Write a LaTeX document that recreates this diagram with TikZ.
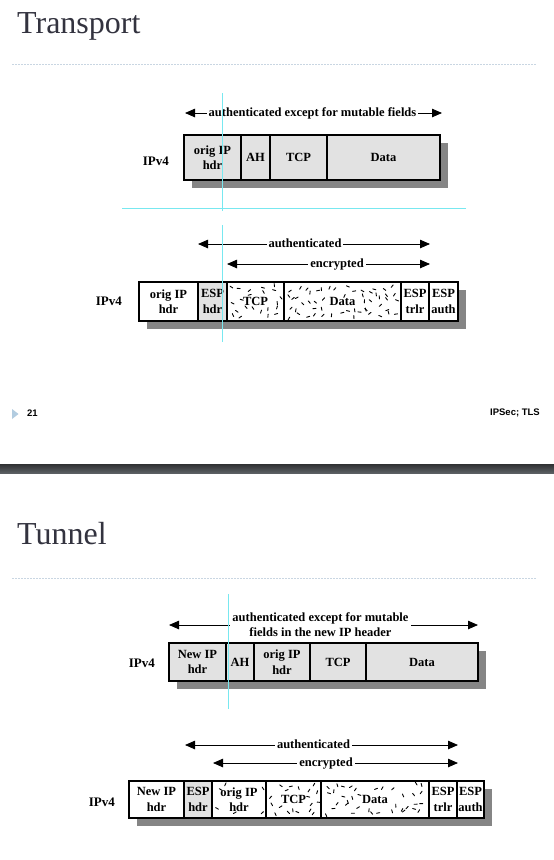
\documentclass[tikz,border=0pt]{standalone}
\usepackage{fontspec}
\setmainfont{Liberation Serif}
\newfontfamily\footfont{Liberation Sans}
\usetikzlibrary{arrows.meta}
\definecolor{cellgray}{HTML}{E2E2E2}
\definecolor{shadowgray}{HTML}{858585}
\definecolor{guidecyan}{RGB}{120,232,240}
\definecolor{titlecol}{HTML}{33333F}
\definecolor{rulecol}{HTML}{C9D6E2}
\definecolor{tricol}{HTML}{B2CCE0}
\definecolor{bartop}{HTML}{2F3133}
\definecolor{barbot}{HTML}{5B5F63}
\newcommand\cellfont{\fontsize{12.5}{15.5}\selectfont\bfseries}
\newcommand\lblfont{\fontsize{12.5}{15}\selectfont\bfseries}
\newcommand\ipvfont{\fontsize{13}{15}\selectfont\bfseries}
\newcommand\titlefont{\fontsize{32}{36}\selectfont}
% jittered-grid speckle fill: x1 y1 x2 y2 halfwidth halfheight (text keep-out)
\newcommand\specks[6]{%
  \pgfmathsetmacro\spcx{(#1+#3)/2}\pgfmathsetmacro\spcy{(#2+#4)/2}%
  \pgfmathtruncatemacro\spnx{(#3-#1-6)/8}%
  \pgfmathtruncatemacro\spny{(#4-#2-6)/8}%
  \pgfmathsetmacro\spdx{(#3-#1-6)/(\spnx+1)}%
  \pgfmathsetmacro\spdy{(#4-#2-6)/(\spny+1)}%
  \foreach \i in {0,...,\spnx}{\foreach \j in {0,...,\spny}{%
    \pgfmathsetmacro\spx{#1+3+(\i+0.5)*\spdx+(rnd-0.5)*\spdx*0.8}%
    \pgfmathsetmacro\spy{#2+3+(\j+0.5)*\spdy+(rnd-0.5)*\spdy*0.8}%
    \pgfmathsetmacro\spa{rnd*360}%
    \pgfmathtruncatemacro\spin{or(and(abs(\spx-\spcx)<#5,abs(\spy-\spcy)<#6),rnd<0.15)}%
    \ifnum\spin=0 \draw[speck] (\spx,\spy) -- ++(\spa:3.2);\fi
  }}}
\begin{document}
\begin{tikzpicture}[x=1pt,y=-1pt,
  cell/.style={draw=black, line width=1.8pt, inner sep=0pt, outer sep=0pt,
    anchor=north west, align=center, font=\cellfont},
  graycell/.style={cell, fill=cellgray},
  shadow/.style={fill=shadowgray},
  lbl/.style={font=\lblfont, fill=white, inner xsep=2pt, inner ysep=1pt,
    text height=9pt, text depth=3pt, align=center},
  span/.style={line width=0.8pt,
    {Triangle[length=10pt,width=8.5pt]}-{Triangle[length=10pt,width=8.5pt]}},
  ipv/.style={font=\ipvfont, anchor=east, inner sep=0pt},
  guide/.style={draw=guidecyan, line width=1pt},
  speck/.style={line width=0.9pt, line cap=round},
  rule/.style={draw=rulecol, line width=0.8pt, dash pattern=on 1.5pt off 1.5pt},
  slidetitle/.style={font=\titlefont, text=titlecol, anchor=base west, inner sep=0pt}
]
\useasboundingbox (0,0) rectangle (554,860);
\fill[white] (0,0) rectangle (554,860);
\pgfmathsetseed{12}

% ---------- Transport ----------
\node[slidetitle] (title1) at (17,33.5) {Transport};
\coordinate (r1l) at (12,64); \coordinate (r1r) at (536,64);
\draw[rule] (r1l) -- (r1r);

% diagram 1
\coordinate (a1l) at (185,113); \coordinate (a1r) at (442,113);
\draw[span] (a1l) -- (a1r);
\node[lbl] (a1t) at (312.5,113) {authenticated except for mutable fields};
\fill[shadow] (192,143) rectangle (448,188);
\node[graycell, minimum width=57pt, minimum height=45pt] (t1a) at (184,135) {orig IP\\hdr};
\node[graycell, minimum width=29pt, minimum height=45pt] (t1b) at (t1a.north east) {AH};
\node[graycell, minimum width=57pt, minimum height=45pt] (t1c) at (t1b.north east) {TCP};
\node[graycell, minimum width=113pt, minimum height=45pt] (t1d) at (t1c.north east) {Data};
\node[ipv] (t1v) at (169,161.5) {IPv4};

% diagram 2
\coordinate (a2l) at (198,244); \coordinate (a2r) at (430,244);
\draw[span] (a2l) -- (a2r);
\node[lbl] (a2t) at (305,244) {authenticated};
\coordinate (e2l) at (227,264); \coordinate (e2r) at (430,264);
\draw[span] (e2l) -- (e2r);
\node[lbl] (e2t) at (337,264) {encrypted};
\fill[shadow] (147,290) rectangle (466,329);
\fill[white] (139,282) rectangle (458,321);
\specks{227}{282}{284}{321}{15}{6}
\specks{284}{282}{401}{321}{17}{6}
\node[cell, minimum width=59pt, minimum height=39pt] (t2a) at (139,282) {orig IP\\hdr};
\node[graycell, minimum width=29pt, minimum height=39pt] (t2b) at (t2a.north east) {ESP\\hdr};
\node[cell, minimum width=57pt, minimum height=39pt] (t2c) at (t2b.north east) {TCP};
\node[cell, minimum width=117pt, minimum height=39pt] (t2d) at (t2c.north east) {Data};
\node[cell, minimum width=28pt, minimum height=39pt] (t2e) at (t2d.north east) {ESP\\trlr};
\node[cell, minimum width=29pt, minimum height=39pt] (t2f) at (t2e.north east) {ESP\\auth};
\node[ipv] (t2v) at (122,301.5) {IPv4};

% footer
\fill[tricol] (12,409) -- (18.5,414) -- (12,419) -- cycle;
\node[font=\footfont\fontsize{9.5}{11}\selectfont\bfseries, anchor=west, inner sep=0pt] (pgno) at (27,413) {21};
\node[font=\footfont\fontsize{9.5}{11}\selectfont\bfseries, anchor=east, inner sep=0pt] (foot) at (540,413) {IPSec; TLS};
\shade[top color=bartop, bottom color=barbot] (0,464) rectangle (554,473);

% ---------- Tunnel ----------
\node[slidetitle] (title2) at (17,544) {Tunnel};
\coordinate (r2l) at (12,578); \coordinate (r2r) at (536,578);
\draw[rule] (r2l) -- (r2r);

% diagram 3
\coordinate (a3l) at (169,625); \coordinate (a3r) at (478,625);
\draw[span] (a3l) -- (a3r);
\node[lbl, text height=, text depth=, inner ysep=0pt] (a3t) at (320.5,624.5) {authenticated except for mutable\\fields in the new IP header};
\fill[shadow] (177,651) rectangle (486,689);
\node[graycell, minimum width=57pt, minimum height=38pt] (t3a) at (169,643) {New IP\\hdr};
\node[graycell, minimum width=28pt, minimum height=38pt] (t3b) at (t3a.north east) {AH};
\node[graycell, minimum width=56pt, minimum height=38pt] (t3c) at (t3b.north east) {orig IP\\hdr};
\node[graycell, minimum width=56pt, minimum height=38pt] (t3d) at (t3c.north east) {TCP};
\node[graycell, minimum width=112pt, minimum height=38pt] (t3e) at (t3d.north east) {Data};
\node[ipv] (t3v) at (155,663) {IPv4};

% diagram 4
\coordinate (a4l) at (185,745); \coordinate (a4r) at (458,745);
\draw[span] (a4l) -- (a4r);
\node[lbl] (a4t) at (313.5,745) {authenticated};
\coordinate (e4l) at (213,763); \coordinate (e4r) at (458,763);
\draw[span] (e4l) -- (e4r);
\node[lbl] (e4t) at (326,763) {encrypted};
\fill[shadow] (137,789) rectangle (492,826);
\fill[white] (129,781) rectangle (484,818);
\specks{212}{781}{266}{818}{19}{13}
\specks{266}{781}{321}{818}{15}{6}
\specks{321}{781}{429}{818}{17}{6}
\node[cell, minimum width=55pt, minimum height=37pt] (t4a) at (129,781) {New IP\\hdr};
\node[graycell, minimum width=28pt, minimum height=37pt] (t4b) at (t4a.north east) {ESP\\hdr};
\node[cell, minimum width=54pt, minimum height=37pt] (t4c) at (t4b.north east) {orig IP\\hdr};
\node[cell, minimum width=55pt, minimum height=37pt] (t4d) at (t4c.north east) {TCP};
\node[cell, minimum width=108pt, minimum height=37pt] (t4e) at (t4d.north east) {Data};
\node[cell, minimum width=28pt, minimum height=37pt] (t4f) at (t4e.north east) {ESP\\trlr};
\node[cell, minimum width=27pt, minimum height=37pt] (t4g) at (t4f.north east) {ESP\\auth};
\node[ipv] (t4v) at (115,802) {IPv4};

% cyan guide lines
\coordinate (g1a) at (222,93); \coordinate (g1b) at (222,211);
\coordinate (g1c) at (222,225); \coordinate (g1d) at (222,342);
\coordinate (g2a) at (122,208); \coordinate (g2b) at (466,208);
\coordinate (g3a) at (228,594); \coordinate (g3b) at (228,709);
\draw[guide] (g1a) -- (g1b);
\draw[guide] (g1c) -- (g1d);
\draw[guide] (g2a) -- (g2b);
\draw[guide] (g3a) -- (g3b);
\end{tikzpicture}
\end{document}
